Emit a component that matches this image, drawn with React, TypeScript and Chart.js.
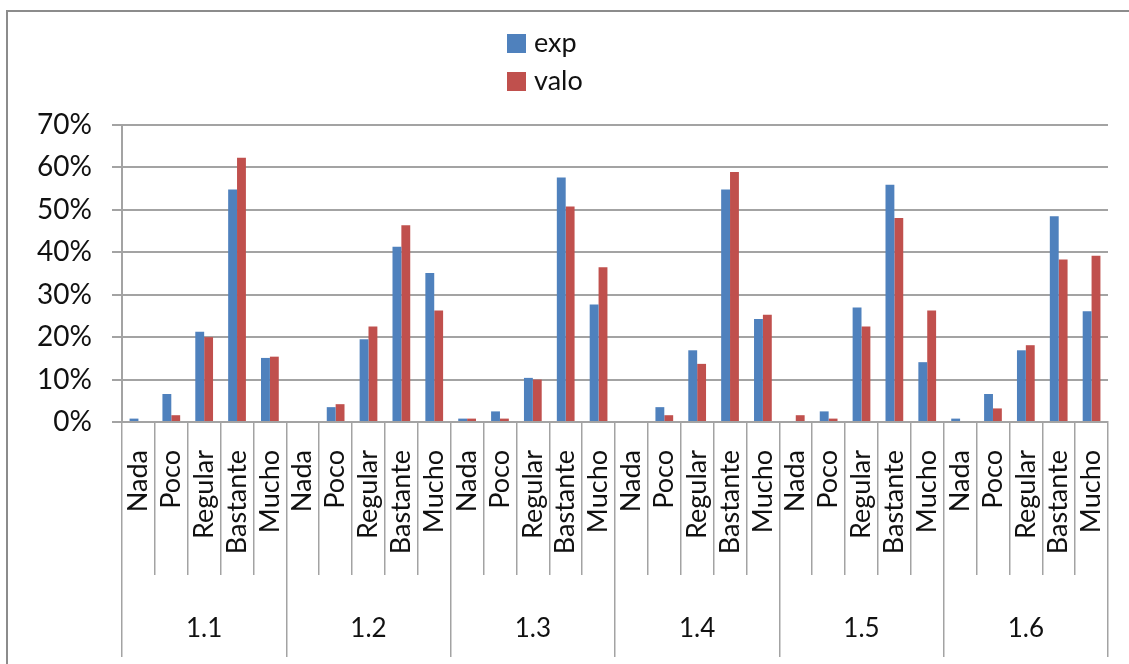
import React, { useEffect, useRef } from "react";
import { Chart, registerables } from "chart.js";

Chart.register(...registerables);

// ---- data ----
const groups = ["1.1", "1.2", "1.3", "1.4", "1.5", "1.6"];
const levels = ["Nada", "Poco", "Regular", "Bastante", "Mucho"];
const seriesNames = ["exp", "valo"];
const expValues = [
  0.8, 6.6, 21.3, 54.8, 15.1,
  0, 3.5, 19.5, 41.3, 35.1,
  0.8, 2.5, 10.4, 57.6, 27.7,
  0, 3.5, 16.9, 54.8, 24.3,
  0, 2.5, 27.0, 55.9, 14.1,
  0.8, 6.6, 16.9, 48.5, 26.1,
];
const valoValues = [
  0, 1.6, 20.0, 62.3, 15.4,
  0, 4.2, 22.5, 46.4, 26.3,
  0.8, 0.8, 10.0, 50.8, 36.5,
  0, 1.6, 13.7, 58.9, 25.3,
  1.6, 0.8, 22.5, 48.1, 26.3,
  0, 3.2, 18.1, 38.3, 39.2,
];
const yMin = 0;
const yMax = 70;
const yStep = 10;

const FONT = "Lato, 'Liberation Sans', sans-serif";
const GRID = "#a3a3a3";
const BLUE = "#4F81BD";
const RED = "#C0504D";

const subLabels = groups.flatMap(() => levels);

const stackedLegend = {
  id: "stackedLegend",
  afterDraw(chart: any) {
    const o = chart.options.plugins.stackedLegend;
    const ctx = chart.ctx;
    ctx.save();
    chart.data.datasets.forEach((ds: any, i: number) => {
      const y = o.top + i * o.rowHeight;
      ctx.fillStyle = ds.backgroundColor;
      ctx.fillRect(o.left, y, o.box, o.box);
      ctx.fillStyle = o.color;
      ctx.font = `${o.size}px ${FONT}`;
      ctx.textBaseline = "middle";
      ctx.textAlign = "left";
      ctx.fillText(ds.label, o.left + o.box + o.gap, y + o.box / 2);
    });
    ctx.restore();
  },
};

export default function App() {
  const ref = useRef<HTMLCanvasElement | null>(null);

  useEffect(() => {
    if (!ref.current) return;
    const chart = new Chart(ref.current, {
      type: "bar",
      data: {
        labels: subLabels,
        datasets: [
          { label: seriesNames[0], data: expValues, backgroundColor: BLUE, xAxisID: "x", yAxisID: "y" },
          { label: seriesNames[1], data: valoValues, backgroundColor: RED, xAxisID: "x", yAxisID: "y" },
        ],
      },
      options: {
        animation: false,
        responsive: true,
        maintainAspectRatio: false,
        datasets: { bar: { barPercentage: 1, categoryPercentage: 0.54 } },
        layout: { padding: { left: 0, top: 125, right: 21, bottom: 7 } },
        plugins: {
          legend: { display: false },
          tooltip: { enabled: false },
          stackedLegend: { left: 507, top: 34, box: 19, rowHeight: 38, gap: 8, size: 27, color: "#111" },
        } as any,
        scales: {
          x: {
            type: "category",
            position: "bottom",
            weight: 0,
            offset: true,
            grid: { offset: true, drawOnChartArea: false, drawTicks: true, tickLength: 153, color: GRID, lineWidth: 1.5 },
            border: { display: true, color: GRID, width: 2 },
            ticks: {
              autoSkip: false,
              minRotation: 90,
              maxRotation: 90,
              padding: -125,
              color: "#111",
              font: { family: FONT, size: 27 },
            },
            afterFit: (s: any) => { s.height = 153; },
          },
          x2: {
            type: "category",
            labels: groups,
            position: "bottom",
            weight: 1,
            offset: true,
            grid: { offset: true, drawOnChartArea: false, drawTicks: true, tickLength: 82, color: GRID, lineWidth: 1.5 },
            border: { display: false },
            ticks: {
              autoSkip: false,
              maxRotation: 0,
              padding: -44,
              color: "#111",
              font: { family: FONT, size: 26 },
            },
            afterFit: (s: any) => { s.height = 82; },
          },
          y: {
            type: "linear",
            min: yMin,
            max: yMax,
            ticks: {
              stepSize: yStep,
              padding: 20,
              color: "#111",
              font: { family: FONT, size: 28 },
              callback: (v: any) => `${v}%`,
            },
            grid: { color: GRID, lineWidth: 2, tickLength: 10, drawTicks: true },
            border: { color: GRID, width: 2 },
            afterFit: (s: any) => { s.width = 122; },
          },
        },
      },
      plugins: [stackedLegend],
    });
    return () => chart.destroy();
  }, []);

  return (
    <div style={{ position: "fixed", left: 0, top: 0, width: 1129, height: 664, background: "#fff" }}>
      <div
        style={{
          position: "absolute",
          left: 6,
          top: 10,
          right: 0,
          bottom: 0,
          borderLeft: "2px solid #8c8c8c",
          borderTop: "2px solid #8c8c8c",
        }}
      />
      <canvas ref={ref} style={{ position: "absolute", left: 0, top: 0 }} />
    </div>
  );
}
